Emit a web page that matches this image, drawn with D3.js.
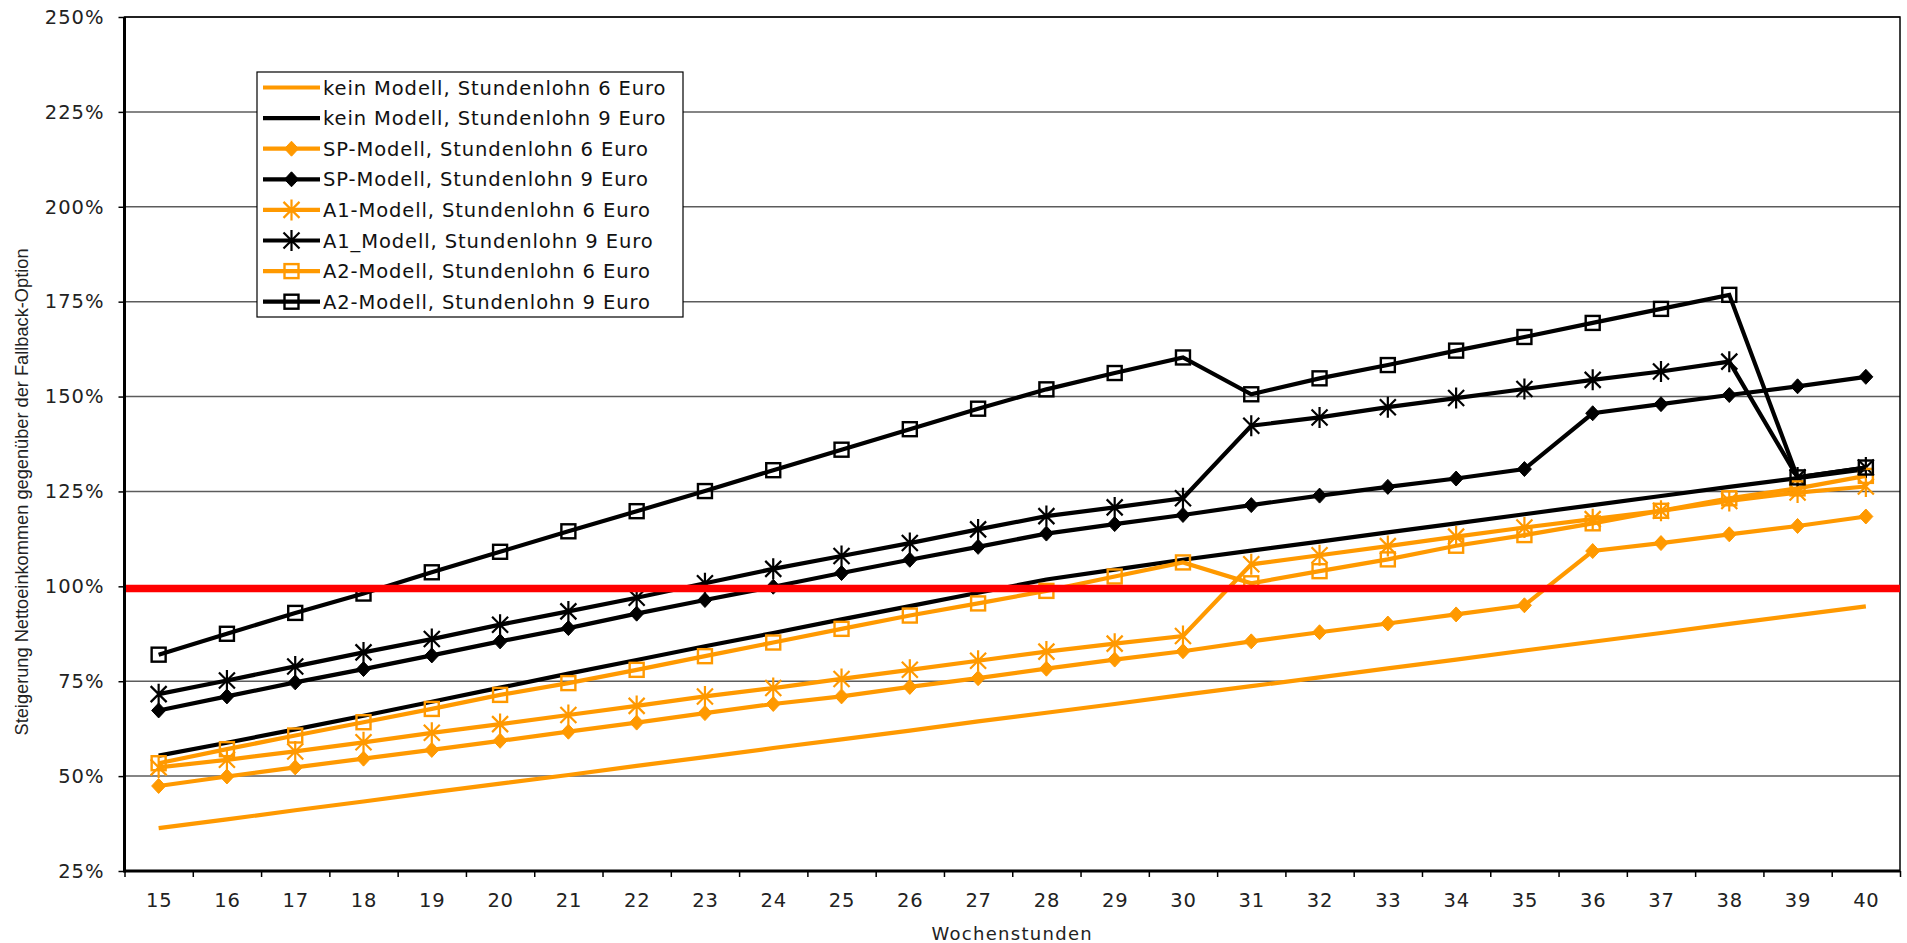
<!DOCTYPE html>
<html><head><meta charset="utf-8">
<script src="https://cdn.jsdelivr.net/npm/d3@7"></script>
<style>body{margin:0;background:#fff;} svg{display:block}</style>
</head><body>
<svg id="c" width="1907" height="943"></svg>
<script>
// ---------- DATA ----------
const hours = [15,16,17,18,19,20,21,22,23,24,25,26,27,28,29,30,31,32,33,34,35,36,37,38,39,40];
const yTicks = [25,50,75,100,125,150,175,200,225,250];
const yTickLabels = ["25%","50%","75%","100%","125%","150%","175%","200%","225%","250%"];
const referenceLevel = 99.4;

const kein6 = [36.3,38.6,41.0,43.3,45.7,48.0,50.3,52.7,55.0,57.4,59.7,62.0,64.4,66.7,69.0,71.4,73.7,76.0,78.4,80.7,83.1,85.4,87.7,90.1,92.4,94.7];
const kein9 = [55.4,58.8,62.3,65.9,69.6,73.3,77.0,80.6,84.2,87.7,91.3,94.8,98.3,101.8,104.4,107.0,109.4,111.8,114.2,116.6,119.0,121.4,123.8,126.2,128.5,130.9];
const sp6   = [47.4,49.9,52.3,54.6,56.9,59.3,61.7,64.1,66.6,69.0,71.0,73.5,75.8,78.3,80.7,82.9,85.5,87.9,90.2,92.6,95.0,109.3,111.4,113.7,115.9,118.4];
const sp9   = [67.3,71.0,74.7,78.2,81.8,85.5,89.0,92.8,96.4,99.9,103.5,107.0,110.4,113.9,116.4,118.8,121.4,123.9,126.2,128.4,130.9,145.6,148.0,150.4,152.7,155.2];
const a1_6  = [52.3,54.3,56.5,58.9,61.4,63.7,66.1,68.5,71.0,73.2,75.6,78.0,80.4,82.8,84.9,86.9,105.8,108.2,110.6,113.1,115.5,117.7,119.9,122.5,124.7,126.3];
const a1_9  = [71.6,75.2,78.9,82.6,86.1,89.9,93.4,97.0,100.8,104.6,108.0,111.4,115.0,118.5,120.8,123.2,142.3,144.5,147.2,149.6,152.0,154.4,156.6,159.2,128.7,131.3];
const a2_6  = [53.4,57.1,60.7,64.2,67.7,71.4,74.5,78.0,81.6,85.2,88.8,92.3,95.5,98.8,102.6,106.3,100.8,104.0,107.1,110.7,113.5,116.6,119.9,123.2,125.8,129.1];
const a2_9  = [82.0,87.5,93.0,98.1,103.7,109.1,114.5,119.8,125.1,130.6,136.0,141.4,146.8,151.9,156.2,160.3,150.6,154.8,158.3,162.1,165.7,169.4,173.1,176.8,128.7,131.3];

const seriesNames = [
  "kein Modell, Stundenlohn 6 Euro",
  "kein Modell, Stundenlohn 9 Euro",
  "SP-Modell, Stundenlohn 6 Euro",
  "SP-Modell, Stundenlohn 9 Euro",
  "A1-Modell, Stundenlohn 6 Euro",
  "A1_Modell, Stundenlohn 9 Euro",
  "A2-Modell, Stundenlohn 6 Euro",
  "A2-Modell, Stundenlohn 9 Euro"
];
const xTitle = "Wochenstunden";
const yTitle = "Steigerung Nettoeinkommen gegenüber der Fallback-Option";

// ---------- STYLE / BUILD ----------
const ORANGE = "#ff9900", BLACK = "#000000";
const series = [
  {name: seriesNames[0], values: kein6, color: ORANGE, marker: null},
  {name: seriesNames[1], values: kein9, color: BLACK,  marker: null},
  {name: seriesNames[2], values: sp6,   color: ORANGE, marker: "diamond"},
  {name: seriesNames[3], values: sp9,   color: BLACK,  marker: "diamond"},
  {name: seriesNames[4], values: a1_6,  color: ORANGE, marker: "star"},
  {name: seriesNames[5], values: a1_9,  color: BLACK,  marker: "star"},
  {name: seriesNames[6], values: a2_6,  color: ORANGE, marker: "square"},
  {name: seriesNames[7], values: a2_9,  color: BLACK,  marker: "square"}
];

const svg = d3.select("#c");
const m = {l: 124.5, r: 1900, t: 17, b: 871};
const x = d3.scaleLinear().domain([hours[0]-0.5, hours[hours.length-1]+0.5]).range([m.l, m.r]);
const y = d3.scaleLinear().domain([yTicks[0], yTicks[yTicks.length-1]]).range([m.b, m.t]);

svg.append("rect").attr("width",1907).attr("height",943).attr("fill","#fff");

// gridlines
svg.append("g").selectAll("line").data(yTicks.slice(1)).join("line")
  .attr("x1", m.l).attr("x2", m.r)
  .attr("y1", d => y(d)).attr("y2", d => y(d))
  .attr("stroke", "#5c5c5c").attr("stroke-width", 1.5);

// plot border (top / right)
svg.append("rect").attr("x", m.l).attr("y", m.t).attr("width", m.r-m.l).attr("height", m.b-m.t)
  .attr("fill","none").attr("stroke","#000").attr("stroke-width",1.5);

// y axis
const yAxisG = svg.append("g").attr("transform", `translate(${m.l},0)`)
  .call(d3.axisLeft(y).tickValues(yTicks).tickFormat((d,i) => yTickLabels[i]).tickSize(6).tickPadding(14));
yAxisG.select(".domain").remove();
yAxisG.selectAll(".tick line").attr("stroke","#000").attr("stroke-width",1.5);
yAxisG.selectAll(".tick text").attr("font-family","DejaVu Sans, Verdana, sans-serif")
  .attr("font-size", 19.5).attr("fill","#222").attr("letter-spacing", 1);

// x axis ticks (category boundaries)
const bounds = hours.map(h => h - 0.5).concat([hours[hours.length-1] + 0.5]);
const xAxisG = svg.append("g").attr("transform", `translate(0,${m.b})`)
  .call(d3.axisBottom(x).tickValues(bounds).tickFormat("").tickSize(6));
xAxisG.select(".domain").remove();
xAxisG.selectAll(".tick line").attr("stroke","#000").attr("stroke-width",1.5);
// x labels
const xLabG = svg.append("g").attr("transform", `translate(0,${m.b})`)
  .call(d3.axisBottom(x).tickValues(hours).tickFormat(d => String(d)).tickSize(0).tickPadding(22));
xLabG.select(".domain").remove();
xLabG.selectAll(".tick text").attr("font-family","DejaVu Sans, Verdana, sans-serif")
  .attr("font-size", 19.5).attr("fill","#222").attr("letter-spacing", 0.8);

// axis lines (thick)
svg.append("line").attr("x1", m.l).attr("x2", m.l).attr("y1", m.t).attr("y2", m.b+1.5)
  .attr("stroke","#000").attr("stroke-width",3);
svg.append("line").attr("x1", m.l).attr("x2", m.r).attr("y1", m.b).attr("y2", m.b)
  .attr("stroke","#000").attr("stroke-width",3);

// axis titles
svg.append("text").attr("x", (m.l+m.r)/2).attr("y", 940).attr("text-anchor","middle")
  .attr("font-family","DejaVu Sans, Verdana, sans-serif").attr("font-size", 18).attr("fill","#222")
  .attr("letter-spacing", 1.3).text(xTitle);
svg.append("text").attr("transform", "translate(28,492) rotate(-90)").attr("text-anchor","middle")
  .attr("font-family","Liberation Sans, Arial, sans-serif").attr("font-size", 18).attr("fill","#222")
  .attr("textLength", 487).attr("lengthAdjust","spacingAndGlyphs").text(yTitle);

// markers
function drawMarker(g, type, color) {
  if (type === "diamond") {
    g.append("path").attr("d","M0,-7.5L7,0L0,7.5L-7,0Z").attr("fill", color).attr("stroke", color).attr("stroke-width",1);
  } else if (type === "square") {
    g.append("rect").attr("x",-7).attr("y",-7).attr("width",14).attr("height",14)
      .attr("fill","none").attr("stroke", color).attr("stroke-width",2.4);
  } else if (type === "star") {
    g.append("path").attr("d","M-8,-8L8,8M8,-8L-8,8M0,-10.5L0,10.5")
      .attr("fill","none").attr("stroke", color).attr("stroke-width",2.2);
  }
}

const line = d3.line().x(d => x(d.h)).y(d => y(d.v));
const plotG = svg.append("g");
series.forEach(s => {
  const pts = hours.map((h,i) => ({h, v: s.values[i]}));
  plotG.append("path").datum(pts).attr("d", line).attr("fill","none")
    .attr("stroke", s.color).attr("stroke-width", 4.2).attr("stroke-linejoin","miter");
  if (s.marker) {
    plotG.append("g").selectAll("g").data(pts).join("g")
      .attr("transform", d => `translate(${x(d.h)},${y(d.v)})`)
      .each(function() { drawMarker(d3.select(this), s.marker, s.color); });
  }
});

// 100% reference line
svg.append("line").attr("x1", m.l+1.5).attr("x2", m.r).attr("y1", y(referenceLevel)).attr("y2", y(referenceLevel))
  .attr("stroke","#ff0000").attr("stroke-width",7.5);

// legend
const lg = svg.append("g").attr("transform","translate(257,72)");
lg.append("rect").attr("width",426).attr("height",245).attr("fill","#fff").attr("stroke","#000").attr("stroke-width",1.2);
series.forEach((s,i) => {
  const cy = 15.5 + i*30.6;
  lg.append("line").attr("x1",6).attr("x2",63).attr("y1",cy).attr("y2",cy)
    .attr("stroke", s.color).attr("stroke-width",4.2);
  if (s.marker) {
    const mg = lg.append("g").attr("transform",`translate(34.5,${cy})`);
    drawMarker(mg, s.marker, s.color);
  }
  lg.append("text").attr("x",66).attr("y",cy).attr("dy","0.36em")
    .attr("font-family","DejaVu Sans, Verdana, sans-serif").attr("font-size",19.5).attr("fill","#111")
    .attr("letter-spacing",0.9).text(s.name);
});
</script>
</body></html>
